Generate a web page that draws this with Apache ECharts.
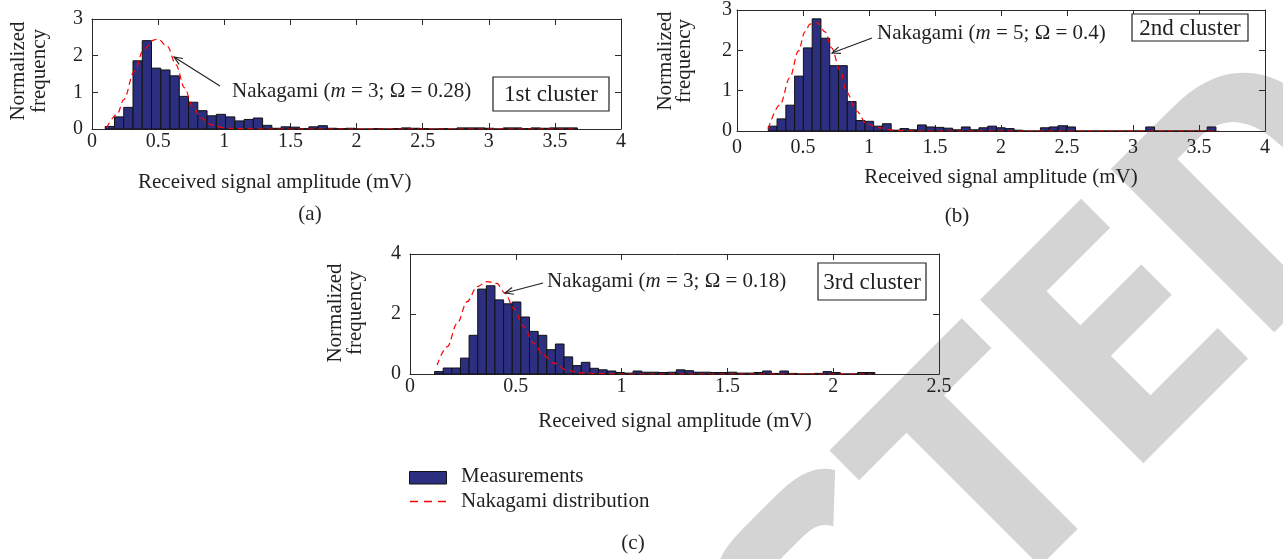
<!DOCTYPE html>
<html><head><meta charset="utf-8">
<script src="https://cdn.jsdelivr.net/npm/echarts@6/dist/echarts.min.js"></script>
<style>html,body{margin:0;padding:0;background:#fff}#c{width:1283px;height:559px}</style>
</head><body><div id="c"></div>
<script>
// ---------- data ----------
const binStartA = 0.100, binWidthA = 0.0700;
const countsA = [0.07,0.33,0.59,1.86,2.41,1.66,1.61,1.45,0.89,0.73,
  0.50,0.36,0.40,0.33,0.22,0.26,0.30,0.10,0.02,0.06,
  0.05,0.01,0.06,0.09,0.02,0.01,0.02,0,0,0.01,
  0,0.01,0.03,0.02,0.01,0,0.01,0,0.03,0.03,
  0.03,0.02,0,0.03,0.03,0.01,0.03,0.02,0.03,0.03,
  0.03];
const curveA = [[0.11,0.03],[0.19,0.40],[0.24,0.80],[0.32,1.57],[0.39,2.16],[0.47,2.43],[0.50,2.45],
  [0.57,2.25],[0.635,1.75],[0.70,1.12],[0.76,0.62],[0.825,0.30],[0.90,0.12],[1.00,0.03],[1.10,0.01],[1.30,0],[3.65,0]];

const binStartB = 0.237, binWidthB = 0.0665;
const countsB = [0.12,0.30,0.64,1.36,2.06,2.78,2.30,1.62,1.62,0.73,
  0.26,0.24,0.12,0.18,0.02,0.06,0.03,0.15,0.10,0.09,
  0.07,0.03,0.10,0.03,0.08,0.12,0.08,0.06,0.02,0,
  0,0.08,0.10,0.13,0.10,0,0,0,0,0,
  0,0,0,0.10,0,0,0,0,0,0,
  0.10];
const curveB = [[0.237,0.06],[0.326,0.65],[0.40,1.32],[0.465,1.98],[0.515,2.46],[0.553,2.65],[0.604,2.69],
  [0.667,2.46],[0.717,2.06],[0.78,1.51],[0.83,0.96],[0.907,0.49],[0.98,0.18],[1.08,0.08],[1.18,0.02],[1.30,0],[3.65,0]];

const binStartC = 0.116, binWidthC = 0.0408;
const countsC = [0.08,0.20,0.20,0.53,1.29,2.83,2.94,2.47,2.34,2.40,
  1.90,1.42,1.29,0.81,1.00,0.57,0.28,0.39,0.19,0.14,
  0.10,0.05,0.03,0.10,0.06,0.06,0.05,0.06,0.14,0.11,
  0.06,0.06,0.05,0.05,0.06,0.03,0.03,0.05,0.10,0.02,
  0.10,0.02,0,0,0.02,0.08,0.05,0,0,0.05,
  0.05];
const curveC = [[0.128,0.30],[0.176,0.91],[0.223,1.69],[0.27,2.41],[0.317,2.91],[0.364,3.08],[0.41,3.02],
  [0.45,2.69],[0.49,2.19],[0.537,1.58],[0.585,1.02],[0.63,0.63],[0.68,0.36],[0.74,0.13],[0.805,0.04],[0.90,0.01],[1.00,0],[2.18,0]];

const xLabel = 'Received signal amplitude (mV)';
const yLabel = ['Normalized', 'frequency'];
const annotations = ['Nakagami ({i|m} = 3; Ω = 0.28)', 'Nakagami ({i|m} = 5; Ω = 0.4)', 'Nakagami ({i|m} = 3; Ω = 0.18)'];
const clusters = ['1st cluster', '2nd cluster', '3rd cluster'];
const panelTags = ['(a)', '(b)', '(c)'];
const legendNames = ['Measurements', 'Nakagami distribution'];

// ---------- styling ----------
const SERIF = '"Liberation Serif","Times New Roman",serif';
const INK = '#231f20';
const AX = '#2a2a2a';
const BAR = '#2c2f7f';
const RED = '#ff0000';

function bins(start, w, counts) { return counts.map((v, k) => [start + k * w, start + (k + 1) * w, v]); }

const grids = [
  {left: 92, top: 19, width: 529, height: 110},
  {left: 737, top: 4, width: 528, height: 127},
  {left: 410, top: 254, width: 529, height: 120}
];
const xSpec = [{max: 4, interval: 0.5, margin: 3}, {max: 4, interval: 0.5, margin: 7}, {max: 2.5, interval: 0.5, margin: 3}];
const ySpec = [{max: 3, interval: 1, margin: 9}, {max: 3, interval: 1, margin: 5}, {max: 4, interval: 2, margin: 9}];

const xAxes = [], yAxes = [];
grids.forEach((g, i) => {
  const base = {gridIndex: i, type: 'value', min: 0, splitLine: {show: false},
    axisLine: {show: true, onZero: false, lineStyle: {color: AX, width: 1}},
    axisTick: {show: true, inside: true, length: 6, lineStyle: {color: AX, width: 1}}};
  xAxes.push(Object.assign({}, base, {max: xSpec[i].max, interval: xSpec[i].interval, position: 'bottom',
    axisLabel: {show: true, margin: xSpec[i].margin, color: INK, fontFamily: SERIF, fontSize: 20, showMinLabel: true, showMaxLabel: true, hideOverlap: false}}));
  xAxes.push(Object.assign({}, base, {max: xSpec[i].max, interval: xSpec[i].interval, position: 'top', axisLabel: {show: false}}));
  yAxes.push(Object.assign({}, base, {max: ySpec[i].max, interval: ySpec[i].interval, position: 'left',
    axisLabel: {show: true, margin: ySpec[i].margin, color: INK, fontFamily: SERIF, fontSize: 20, showMinLabel: true, showMaxLabel: true}}));
  yAxes.push(Object.assign({}, base, {max: ySpec[i].max, interval: ySpec[i].interval, position: 'right', axisLabel: {show: false}}));
});

function barSeries(i, data) {
  return {type: 'custom', xAxisIndex: 2 * i, yAxisIndex: 2 * i, data: data, encode: {x: [0, 1], y: 2}, z: 3,
    renderItem: function (params, api) {
      const p0 = api.coord([api.value(0), 0]);
      const p1 = api.coord([api.value(1), api.value(2)]);
      return {type: 'rect', shape: {x: p0[0], y: p1[1], width: p1[0] - p0[0], height: p0[1] - p1[1]},
        style: {fill: BAR, stroke: '#111', lineWidth: 1}};
    }};
}
function lineSeries(i, data) {
  return {type: 'line', xAxisIndex: 2 * i, yAxisIndex: 2 * i, data: data, showSymbol: false, symbol: 'none', z: 5,
    smooth: 0.35, smoothMonotone: 'x', lineStyle: {color: RED, width: 1.2, type: [6, 4]}};
}

const series = [
  barSeries(0, bins(binStartA, binWidthA, countsA)), lineSeries(0, curveA),
  barSeries(1, bins(binStartB, binWidthB, countsB)), lineSeries(1, curveB),
  barSeries(2, bins(binStartC, binWidthC, countsC)), lineSeries(2, curveC)
];

// ---------- annotation graphics ----------
const G = [];
function txt(x, y, text, size, opts) {
  G.push(Object.assign({type: 'text', x: x, y: y, z: 100,
    style: Object.assign({text: text, fill: INK, font: size + 'px ' + SERIF, align: 'left', verticalAlign: 'middle'}, opts && opts.style || {})},
    opts && opts.el || {}));
}
function arrow(x1, y1, x2, y2) {
  const a = Math.atan2(y2 - y1, x2 - x1), L = 9, w = 0.4;
  const p1 = [x2 - L * Math.cos(a - w), y2 - L * Math.sin(a - w)];
  const p2 = [x2 - L * Math.cos(a + w), y2 - L * Math.sin(a + w)];
  G.push({type: 'line', z: 100, shape: {x1: x1, y1: y1, x2: x2, y2: y2}, style: {stroke: INK, lineWidth: 1.1}});
  G.push({type: 'polyline', z: 100, shape: {points: [p1, [x2, y2], p2]}, style: {stroke: INK, lineWidth: 1.1, fill: null}});
}
function box(x, y, w, h, label, size) {
  G.push({type: 'rect', z: 100, shape: {x: x, y: y, width: w, height: h}, style: {fill: '#fff', stroke: INK, lineWidth: 1.2}});
  txt(x + w / 2, y + h / 2 + 1, label, size, {style: {align: 'center'}});
}
const rich = {i: {fontStyle: 'italic', fontFamily: SERIF, fontSize: 21, fill: INK}};

// y-axis names (rotated)
[[18, 39, 71], [665, 684, 61], [335, 355, 313]].forEach(p => {
  txt(p[0], p[2], yLabel[0], 21, {el: {rotation: Math.PI / 2}, style: {align: 'center'}});
  txt(p[1], p[2], yLabel[1], 21, {el: {rotation: Math.PI / 2}, style: {align: 'center'}});
});
// x-axis names
txt(138, 182, xLabel, 21);
txt(1001, 177, xLabel, 21, {style: {align: 'center'}});
txt(675, 421, xLabel, 21, {style: {align: 'center'}});
// panel tags
txt(310, 214, panelTags[0], 21, {style: {align: 'center'}});
txt(957, 216, panelTags[1], 21, {style: {align: 'center'}});
txt(633, 543, panelTags[2], 21, {style: {align: 'center'}});
// Nakagami annotations
txt(232, 91, annotations[0], 21, {style: {rich: rich}});
txt(877, 33, annotations[1], 21, {style: {rich: rich}});
txt(547, 281, annotations[2], 21, {style: {rich: rich}});
arrow(220, 86, 174, 57);
arrow(872, 38, 832, 53);
arrow(543, 283, 505, 293);
// cluster boxes
box(493, 77, 116, 34, clusters[0], 23);
box(1132, 14, 116, 27, clusters[1], 23);
box(818, 263, 108, 37, clusters[2], 23);
// legend
G.push({type: 'rect', z: 100, shape: {x: 409.5, y: 471.5, width: 37, height: 12.5}, style: {fill: BAR, stroke: '#111', lineWidth: 1}});
txt(461, 476, legendNames[0], 21);
G.push({type: 'line', z: 100, shape: {x1: 410, y1: 501.5, x2: 446, y2: 501.5}, style: {stroke: RED, lineWidth: 1.3, lineDash: [8, 6]}});
txt(461, 501, legendNames[1], 21);

// ---------- watermark: large grey letters C T E D, drawn in a frame rotated 45 degrees ----------
const WM = '#d4d4d4';
function se(x, n) { return Math.sign(x) * Math.pow(Math.abs(x), 2 / n); }
const rad = d => d * Math.PI / 180;
const wmShapes = [];
// E
wmShapes.push([[481,905],[624,905],[624,946],[534,946],[534,994],[620,994],[620,1037],[534,1037],[534,1093],[629,1093],[629,1136],[481,1136]]);
// T
wmShapes.push([[268,905],[455,905],[455,947],[388,947],[388,1136],[335,1136],[335,947],[268,947]]);
// D stem + bowl
wmShapes.push([[666,905],[720,905],[720,1136],[666,1136]]);
(function () {
  const p = [[719,905],[745,905]];
  for (let t = 90; t >= -90; t -= 5) p.push([745 + 110 * se(Math.cos(rad(t)), 2.6), 1020.5 - 115.5 * se(Math.sin(rad(t)), 2.6)]);
  p.push([719,1136],[719,1096],[745,1096]);
  for (let t = -90; t <= 90; t += 5) p.push([745 + 58 * se(Math.cos(rad(t)), 2.6), 1020.5 - 75.5 * se(Math.sin(rad(t)), 2.6)]);
  p.push([719,945]);
  wmShapes.push(p);
})();
// C
(function () {
  const p = [];
  for (let t = 40; t <= 320; t += 5) p.push([175 + 95 * se(Math.cos(rad(t)), 4), 1020 - 121 * se(Math.sin(rad(t)), 4)]);
  for (let t = 320; t >= 40; t -= 5) p.push([175 + 48 * se(Math.cos(rad(t)), 4), 1020 - 73 * se(Math.sin(rad(t)), 4)]);
  wmShapes.push(p);
})();
G.push({type: 'group', x: 0, y: 0, rotation: Math.PI / 4, silent: true,
  children: wmShapes.map(pts => ({type: 'polygon', z: -10, silent: true, shape: {points: pts}, style: {fill: WM, stroke: null}}))});

const chart = echarts.init(document.getElementById('c'), null, {renderer: 'canvas'});
chart.setOption({
  animation: false,
  backgroundColor: '#fff',
  grid: grids.map(g => Object.assign({containLabel: false, show: false}, g)),
  xAxis: xAxes, yAxis: yAxes, series: series,
  graphic: {elements: G}
});
</script></body></html>
